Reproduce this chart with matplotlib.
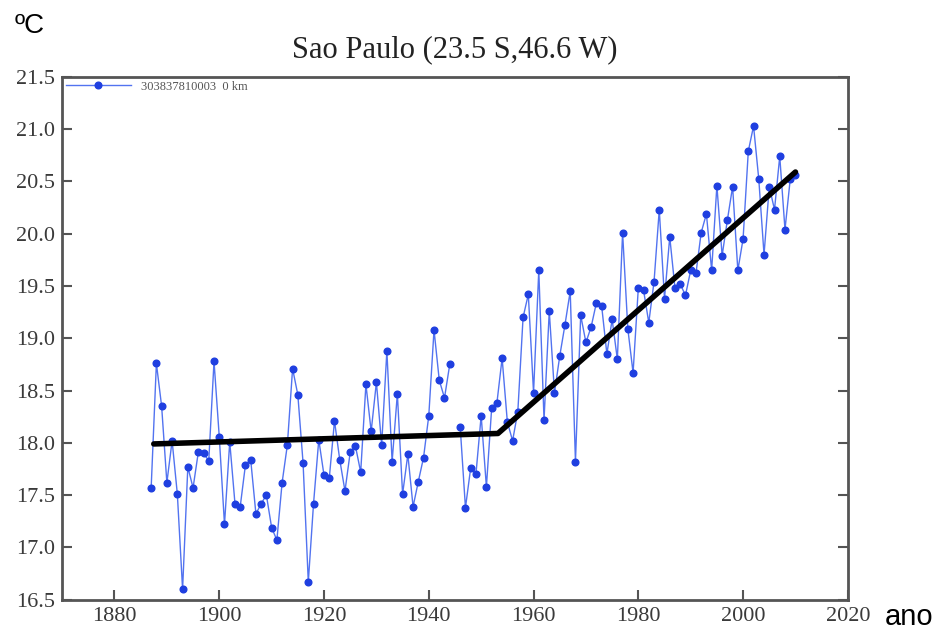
import numpy as np
import matplotlib
matplotlib.use('Agg')
import matplotlib.pyplot as plt
import matplotlib.ticker as ticker

# anos e temperatura media anual
anos = list(range(1887, 2011))
temp = [
    17.57, 18.76, 18.35, 17.62, 18.02, 17.51, 16.60, 17.77, 17.57, 17.91,  # 1887-1896
    17.90, 17.83, 18.78, 18.06, 17.22, 18.01, 17.42, 17.39, 17.79, 17.84,  # 1897-1906
    17.32, 17.42, 17.50, 17.19, 17.07, 17.62, 17.98, 18.71, 18.46, 17.81,  # 1907-1916
    16.67, 17.42, 18.03, 17.69, 17.66, 18.21, 17.84, 17.54, 17.91, 17.97,  # 1917-1926
    17.72, 18.56, 18.11, 18.58, 17.98, 18.88, 17.82, 18.47, 17.51, 17.89,  # 1927-1936
    17.39, 17.63, 17.86, 18.26, 19.08, 18.60, 18.43, 18.75, np.nan, 18.15,  # 1937-1946
    17.38, 17.76, 17.70, 18.26, 17.58, 18.33, 18.38, 18.81, 18.20, 18.02,  # 1947-1956
    18.30, 19.20, 19.42, 18.48, 19.65, 18.22, 19.26, 18.48, 18.83, 19.13,  # 1957-1966
    19.45, 17.82, 19.22, 18.96, 19.11, 19.34, 19.31, 18.85, 19.18, 18.80,  # 1967-1976
    20.01, 19.09, 18.67, 19.48, 19.46, 19.15, 19.54, 20.23, 19.38, 19.97,  # 1977-1986
    19.48, 19.52, 19.41, 19.65, 19.62, 20.01, 20.19, 19.65, 20.46, 19.79,  # 1987-1996
    20.13, 20.45, 19.65, 19.95, 20.79, 21.03, 20.52, 19.80, 20.45, 20.23,  # 1997-2006
    20.74, 20.04, 20.52, 20.56,                                            # 2007-2010
]

# tendencia desenhada a mao (dois segmentos)
tend_anos = [1887.5, 1953.2, 2010.0]
tend_temp = [17.99, 18.09, 20.59]

serif = 'Liberation Serif'
sans = 'Liberation Sans'

fig = plt.figure(figsize=(9.41, 6.30), dpi=100)
ax = fig.add_axes([0.066, 0.048, 0.835, 0.830])

ax.plot(anos, temp, color='#5273f0', lw=1.0, marker='o', ms=4.8,
        mfc='#1f3fe0', mec='#1f3fe0', label='303837810003  0 km')
ax.plot(tend_anos, tend_temp, color='black', lw=4, solid_capstyle='round')

ax.set_xlim(1870, 2020)
ax.set_ylim(16.5, 21.5)
ax.xaxis.set_major_locator(ticker.MultipleLocator(20))
ax.yaxis.set_major_locator(ticker.MultipleLocator(0.5))
ax.yaxis.set_major_formatter(ticker.FormatStrFormatter('%.1f'))
ax.xaxis.set_major_formatter(ticker.FuncFormatter(lambda v, p: '' if v < 1880 else '%d' % v))

ax.tick_params(direction='in', length=7, width=1.5, color='#555555',
               labelsize=16, labelcolor='#3a3a3a', right=True, top=False, pad=5)
for lab in ax.get_xticklabels() + ax.get_yticklabels():
    lab.set_family(serif)
for s in ax.spines.values():
    s.set_color('#555555')
    s.set_linewidth(2)

ax.set_title('Sao Paulo (23.5 S,46.6 W)', family=serif, fontsize=22,
             color='#222222', pad=14)

leg = ax.legend(loc='upper left', frameon=False, fontsize=9, handlelength=5.2,
                borderaxespad=0.1, borderpad=0.2, handletextpad=0.8)
for t in leg.get_texts():
    t.set_family(serif)
    t.set_color('#555555')

fig.text(0.016, 0.948, 'ºC', family=sans, fontsize=20, va='baseline', ha='left')
fig.text(0.940, 0.008, 'ano', family=sans, fontsize=21, va='baseline', ha='left')

fig.savefig('out.png', dpi=100)
